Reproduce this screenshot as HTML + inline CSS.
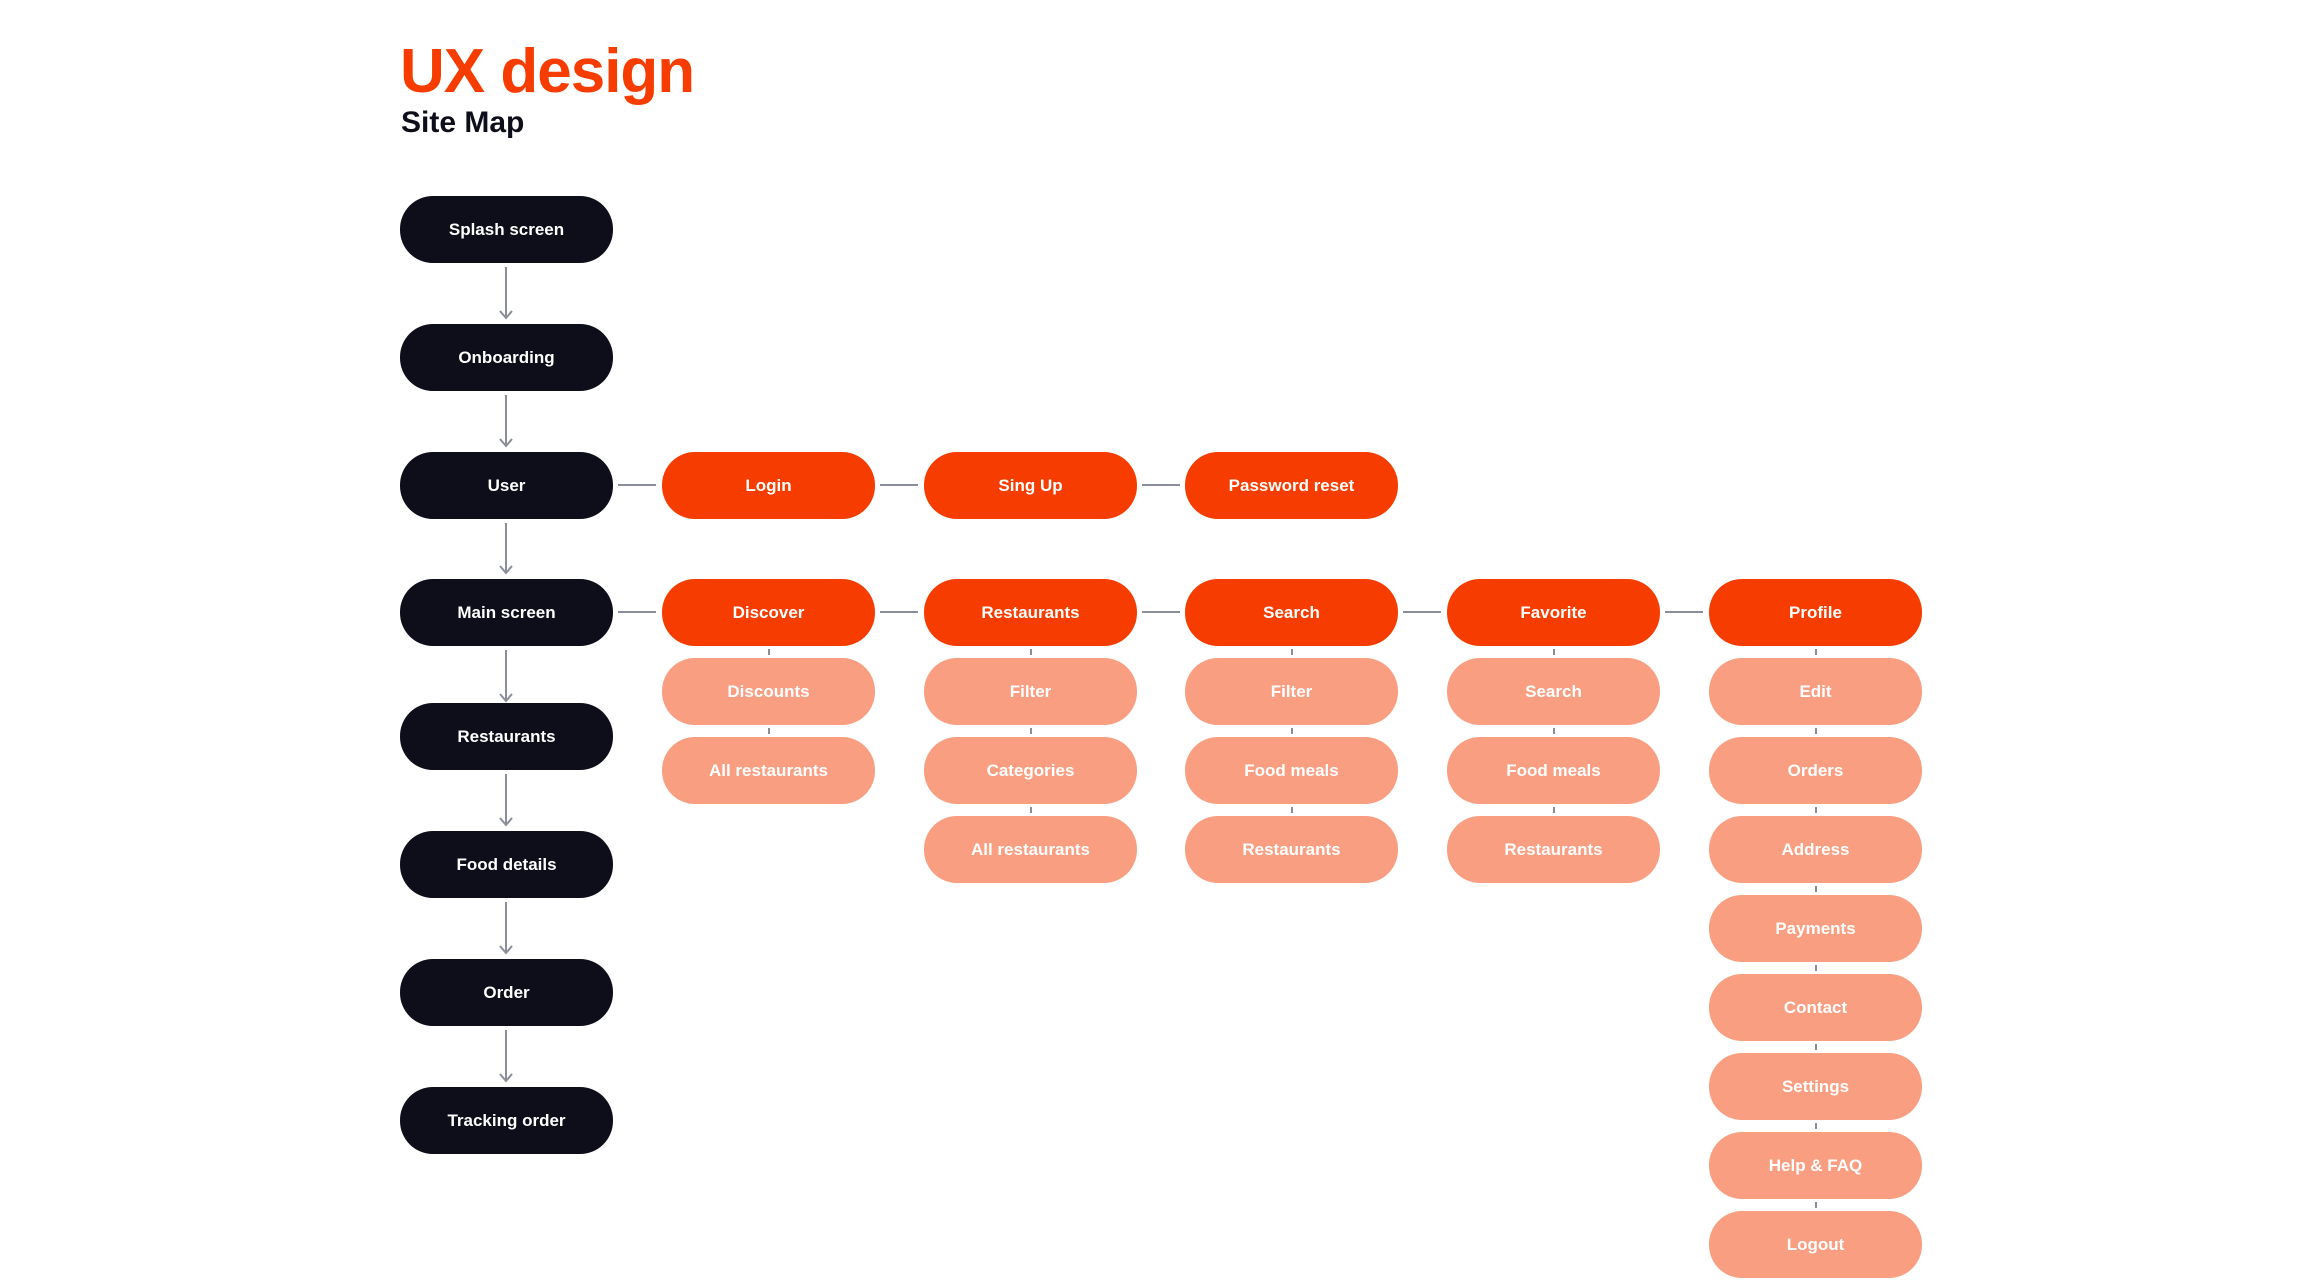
<!DOCTYPE html>
<html><head><meta charset="utf-8"><style>
body{margin:0;background:#fff;width:2320px;height:1280px;position:relative;overflow:hidden;font-family:"Liberation Sans",Arial,sans-serif}
.n{position:absolute;width:213px;height:67px;border-radius:33px;color:#fff;font-weight:bold;font-size:17px;display:flex;align-items:center;justify-content:center}
.d{background:#0d0e1a}.o{background:#f73c00}.l{background:#f99e81}
h1{position:absolute;left:400px;top:36px;margin:0;font-size:62px;color:#f73c00;font-weight:bold;letter-spacing:-1px}
h2{position:absolute;left:401px;top:106px;margin:0;font-size:30px;color:#0d0e1a;font-weight:bold}
svg{position:absolute;left:0;top:0}
</style></head><body>
<h1>UX design</h1><h2>Site Map</h2>
<svg width="2320" height="1280" stroke="#8a8d9a" stroke-width="2" fill="none">
<g>
<path d="M506 267V318M500 311L506 318L512 311"/>
<path d="M506 395V446M500 439L506 446L512 439"/>
<path d="M506 523V573M500 566L506 573L512 566"/>
<path d="M506 650V701M500 694L506 701L512 694"/>
<path d="M506 774V825M500 818L506 825L512 818"/>
<path d="M506 902V953M500 946L506 953L512 946"/>
<path d="M506 1030V1081M500 1074L506 1081L512 1074"/>
</g>
<path d="M618 485H656M880 485H918M1142 485H1180M618 612H656M880 612H918M1142 612H1180M1403 612H1441M1665 612H1703"/>
<g stroke-width="2">
<path d="M769 649v6M769 728v6"/>
<path d="M1031 649v6M1031 728v6M1031 807v6"/>
<path d="M1292 649v6M1292 728v6M1292 807v6"/>
<path d="M1554 649v6M1554 728v6M1554 807v6"/>
<path d="M1816 649v6M1816 728v6M1816 807v6M1816 886v6M1816 965v6M1816 1044v6M1816 1123v6M1816 1202v6"/>
</g>
</svg>
<div class="n d" style="left:400px;top:196px">Splash screen</div>
<div class="n d" style="left:400px;top:324px">Onboarding</div>
<div class="n d" style="left:400px;top:452px">User</div>
<div class="n d" style="left:400px;top:579px">Main screen</div>
<div class="n d" style="left:400px;top:703px">Restaurants</div>
<div class="n d" style="left:400px;top:831px">Food details</div>
<div class="n d" style="left:400px;top:959px">Order</div>
<div class="n d" style="left:400px;top:1087px">Tracking order</div>

<div class="n o" style="left:662px;top:452px">Login</div>
<div class="n o" style="left:924px;top:452px">Sing Up</div>
<div class="n o" style="left:1185px;top:452px">Password reset</div>

<div class="n o" style="left:662px;top:579px">Discover</div>
<div class="n l" style="left:662px;top:658px">Discounts</div>
<div class="n l" style="left:662px;top:737px">All restaurants</div>

<div class="n o" style="left:924px;top:579px">Restaurants</div>
<div class="n l" style="left:924px;top:658px">Filter</div>
<div class="n l" style="left:924px;top:737px">Categories</div>
<div class="n l" style="left:924px;top:816px">All restaurants</div>

<div class="n o" style="left:1185px;top:579px">Search</div>
<div class="n l" style="left:1185px;top:658px">Filter</div>
<div class="n l" style="left:1185px;top:737px">Food meals</div>
<div class="n l" style="left:1185px;top:816px">Restaurants</div>

<div class="n o" style="left:1447px;top:579px">Favorite</div>
<div class="n l" style="left:1447px;top:658px">Search</div>
<div class="n l" style="left:1447px;top:737px">Food meals</div>
<div class="n l" style="left:1447px;top:816px">Restaurants</div>

<div class="n o" style="left:1709px;top:579px">Profile</div>
<div class="n l" style="left:1709px;top:658px">Edit</div>
<div class="n l" style="left:1709px;top:737px">Orders</div>
<div class="n l" style="left:1709px;top:816px">Address</div>
<div class="n l" style="left:1709px;top:895px">Payments</div>
<div class="n l" style="left:1709px;top:974px">Contact</div>
<div class="n l" style="left:1709px;top:1053px">Settings</div>
<div class="n l" style="left:1709px;top:1132px">Help &amp; FAQ</div>
<div class="n l" style="left:1709px;top:1211px">Logout</div>
</body></html>
